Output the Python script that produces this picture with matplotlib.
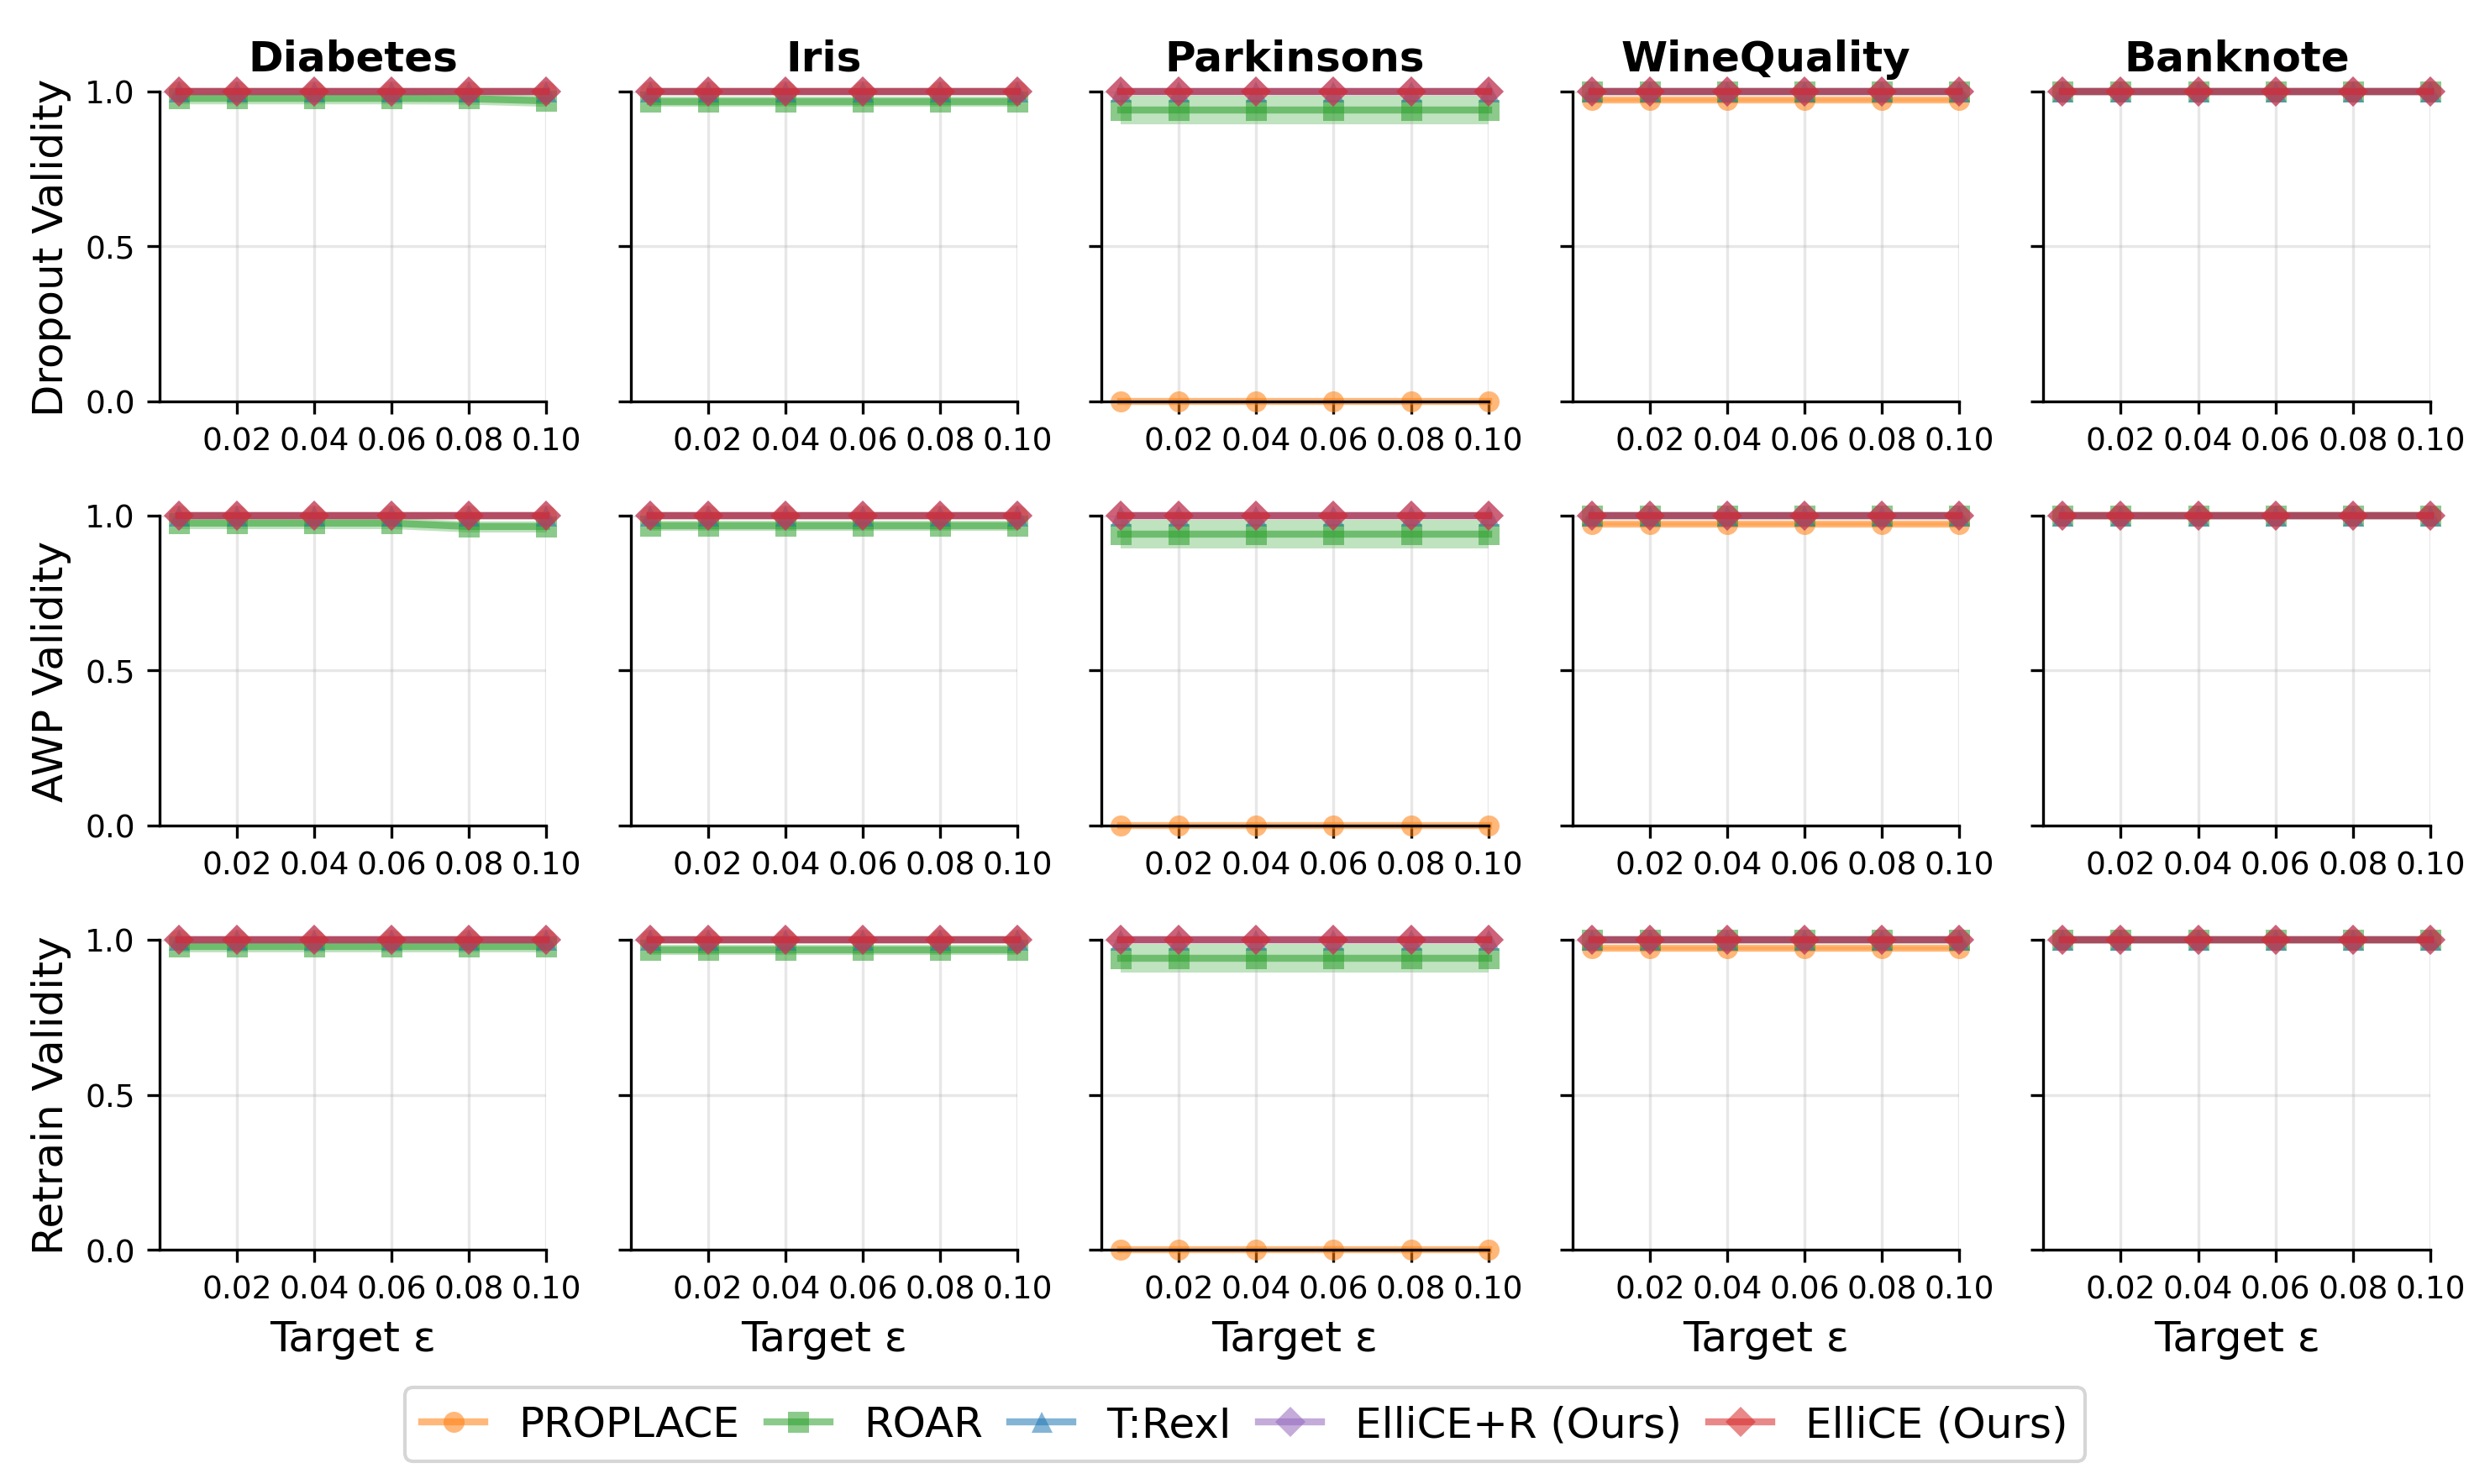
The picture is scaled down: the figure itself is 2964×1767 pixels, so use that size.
import matplotlib
matplotlib.use("Agg")
import matplotlib.pyplot as plt
import numpy as np

# x values (target epsilon) and panel labels
eps = [0.005, 0.02, 0.04, 0.06, 0.08, 0.10]
xtick_vals = [0.02, 0.04, 0.06, 0.08, 0.10]
datasets = ["Diabetes", "Iris", "Parkinsons", "WineQuality", "Banknote"]
metrics = ["Dropout", "AWP", "Retrain"]
methods = ["PROPLACE", "ROAR", "T:RexI", "ElliCE+R (Ours)", "ElliCE (Ours)"]
colors = ["#ff7f0e", "#2ca02c", "#1f77b4", "#9467bd", "#d62728"]
markers = ["o", "s", "^", "D", "D"]

full = [1.0, 1.0, 1.0, 1.0, 1.0, 1.0]
zero = [0.0, 0.0, 0.0, 0.0, 0.0, 0.0]
wine_pp = [0.972, 0.972, 0.972, 0.972, 0.972, 0.972]

# PROPLACE mean validity, per metric, per dataset
proplace_dropout = [full, full, zero, wine_pp, full]
proplace_awp = [full, full, zero, wine_pp, full]
proplace_retrain = [full, full, zero, wine_pp, full]
proplace_std = [0.0, 0.0, 0.0, 0.005, 0.0]

# ROAR mean validity
roar_dropout = [
    [0.978, 0.978, 0.978, 0.978, 0.977, 0.970],
    [0.968, 0.968, 0.968, 0.968, 0.968, 0.968],
    [0.940, 0.940, 0.940, 0.940, 0.940, 0.940],
    full,
    full,
]
roar_awp = [
    [0.976, 0.976, 0.976, 0.976, 0.965, 0.965],
    [0.968, 0.968, 0.968, 0.968, 0.968, 0.968],
    [0.940, 0.940, 0.940, 0.940, 0.940, 0.940],
    full,
    full,
]
roar_retrain = [
    [0.977, 0.977, 0.977, 0.977, 0.977, 0.977],
    [0.968, 0.968, 0.968, 0.968, 0.968, 0.968],
    [0.940, 0.940, 0.940, 0.940, 0.940, 0.940],
    full,
    full,
]
roar_std = [0.018, 0.016, 0.047, 0.0, 0.0]

# T:RexI, ElliCE+R and ElliCE are at 1.0 everywhere
trexi_vals = [full, full, full, full, full]
ellicer_vals = [full, full, full, full, full]
ellice_vals = [full, full, full, full, full]
flat_std = [0.0, 0.0, 0.0, 0.0, 0.0]

means = {
    "Dropout": [proplace_dropout, roar_dropout, trexi_vals, ellicer_vals, ellice_vals],
    "AWP": [proplace_awp, roar_awp, trexi_vals, ellicer_vals, ellice_vals],
    "Retrain": [proplace_retrain, roar_retrain, trexi_vals, ellicer_vals, ellice_vals],
}
stds = [proplace_std, roar_std, flat_std, flat_std, flat_std]

fig, axs = plt.subplots(3, 5, figsize=(9.88, 5.8933), sharey=True)
plt.subplots_adjust(left=0.0641, right=0.976, top=0.9378, bottom=0.1578,
                    wspace=0.2174, hspace=0.3686)

x = np.array(eps)
for i, metric in enumerate(metrics):
    for j, name in enumerate(datasets):
        ax = axs[i, j]
        for k, method in enumerate(methods):
            m = np.array(means[metric][k][j])
            s = stds[k][j]
            if s > 0:
                ax.fill_between(x, m - s, m + s, color=colors[k], alpha=0.3, lw=0)
            ax.plot(x, m, marker=markers[k], color=colors[k], alpha=0.55,
                    lw=2, ms=6, mew=0, label=method, clip_on=False)
        ax.set_xlim(0, 0.10)
        ax.set_ylim(0, 1.0)
        ax.set_xticks(xtick_vals)
        ax.set_xticklabels(["%.2f" % v for v in xtick_vals], fontsize=9)
        ax.set_yticks([0.0, 0.5, 1.0])
        ax.tick_params(axis="y", labelsize=9)
        ax.grid(True, alpha=0.3)
        ax.spines["top"].set_visible(False)
        ax.spines["right"].set_visible(False)
        if i == 0:
            ax.set_title(name, fontsize=12, fontweight="bold")
        if j == 0:
            ax.set_ylabel(metric + " Validity", fontsize=12)
        if i == 2:
            ax.set_xlabel("Target ε", fontsize=12)

handles, labels = axs[0, 0].get_legend_handles_labels()
fig.legend(handles, labels, loc="center", bbox_to_anchor=(0.5, 0.04),
           ncol=5, fontsize=12, handlelength=1.5, columnspacing=0.65)

fig.savefig("out.png", dpi=300)
